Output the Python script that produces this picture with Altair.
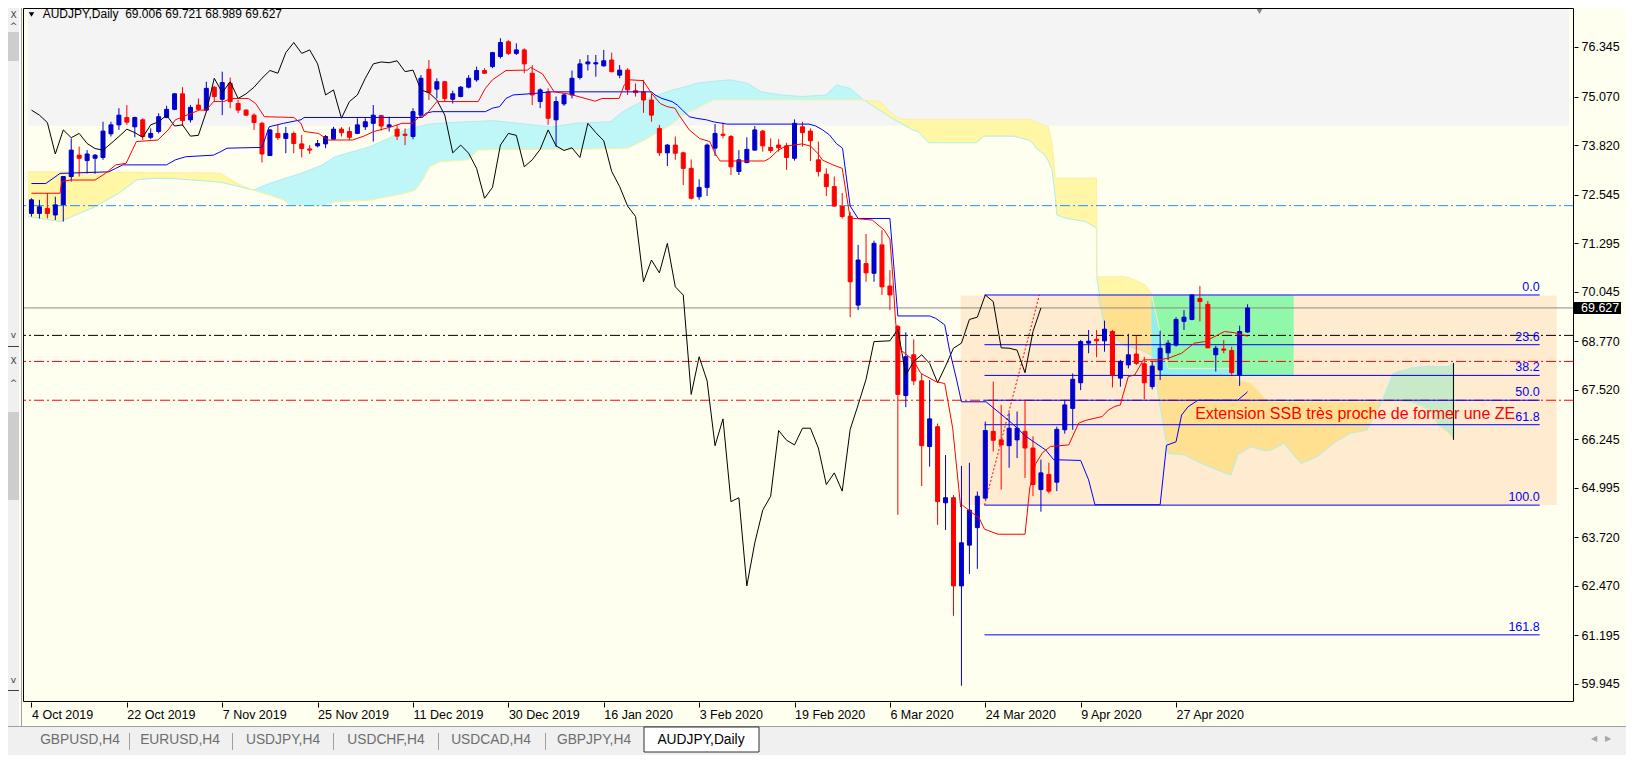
import json
import altair as alt
import pandas as pd

# ---------------- values ----------------
SYMBOL = "AUDJPY,Daily"
DATE_LABELS = ["4 Oct 2019", "22 Oct 2019", "7 Nov 2019", "25 Nov 2019", "11 Dec 2019",
               "30 Dec 2019", "16 Jan 2020", "3 Feb 2020", "19 Feb 2020", "6 Mar 2020",
               "24 Mar 2020", "9 Apr 2020", "27 Apr 2020"]
BARS_PER_LABEL = 12

OPEN = [72.06, 72.06, 72.19, 72.02, 72.28, 73.01, 73.56, 73.42, 73.48, 73.50,
        74.11, 74.34, 74.53, 74.29, 74.47, 74.02, 74.17, 74.53, 74.74, 75.14,
        74.47, 74.85, 74.72, 75.31, 75.00, 75.41, 74.89, 74.72, 74.59, 74.38,
        73.55, 74.12, 73.99, 74.12, 73.85, 73.72, 73.80, 73.85, 73.97, 74.23,
        74.17, 74.12, 74.29, 74.38, 74.58, 74.29, 74.23, 74.10, 74.04, 74.59,
        75.77, 75.26, 75.45, 75.00, 75.07, 75.31, 75.50, 75.74, 75.84, 76.10,
        76.48, 76.18, 76.27, 75.67, 74.94, 75.19, 74.47, 74.88, 75.11, 75.56,
        75.91, 75.91, 75.86, 76.01, 75.62, 75.75, 75.22, 75.19, 74.98, 74.25,
        73.62, 73.82, 73.62, 73.22, 72.49, 72.73, 73.74, 74.10, 74.04, 73.14,
        73.37, 73.69, 74.18, 73.76, 73.82, 73.80, 73.48, 74.29, 74.18, 73.44,
        73.07, 72.75, 72.25, 71.99, 69.70, 70.77, 70.52, 71.25, 70.19, 69.15,
        67.37, 68.42, 67.75, 66.06, 66.57, 64.61, 64.74, 62.47, 63.52, 63.97,
        64.73, 66.45, 66.23, 66.08, 66.23, 66.45, 66.02, 64.95, 65.34, 65.14,
        66.49, 67.04, 67.70, 68.72, 68.82, 68.78, 69.02, 67.82, 68.16, 68.44,
        68.19, 67.60, 68.03, 68.47, 68.67, 69.28, 69.33, 69.87, 69.72, 68.42,
        68.57, 68.53, 67.90, 69.006]
HIGH = [72.45, 72.41, 72.58, 72.49, 73.01, 73.99, 73.78, 73.69, 73.59, 74.42,
        74.42, 74.77, 74.85, 74.55, 74.51, 74.25, 74.64, 74.83, 75.16, 75.31,
        74.85, 75.02, 75.45, 75.34, 75.71, 75.56, 74.98, 74.74, 74.64, 74.42,
        74.23, 74.34, 74.29, 74.17, 74.08, 73.82, 73.95, 74.08, 74.29, 74.28,
        74.29, 74.51, 74.51, 74.85, 74.59, 74.55, 74.34, 74.25, 74.77, 75.62,
        76.01, 75.54, 75.47, 75.22, 75.34, 75.62, 75.84, 75.80, 76.22, 76.57,
        76.52, 76.44, 76.31, 75.88, 75.28, 75.28, 75.07, 75.15, 75.74, 76.03,
        76.14, 76.14, 76.27, 76.20, 75.88, 75.80, 75.41, 75.50, 75.15, 74.34,
        73.85, 74.04, 73.65, 73.45, 72.94, 73.86, 74.36, 74.40, 74.08, 73.69,
        74.02, 74.31, 74.21, 73.99, 73.97, 73.88, 74.48, 74.42, 74.25, 73.91,
        73.22, 73.01, 72.59, 72.10, 71.25, 71.53, 71.36, 71.63, 70.60, 69.19,
        69.00, 68.82, 67.93, 67.77, 66.65, 65.84, 64.81, 65.56, 65.64, 64.90,
        66.70, 67.73, 67.13, 66.93, 66.96, 67.26, 66.32, 65.72, 65.64, 66.57,
        67.26, 67.94, 68.80, 69.06, 69.06, 69.30, 69.06, 68.29, 68.96, 68.92,
        68.37, 68.25, 69.04, 68.80, 69.39, 69.57, 69.98, 70.19, 69.81, 68.65,
        68.80, 68.63, 69.17, 69.721]
LOW = [71.98, 71.93, 71.93, 71.89, 71.85, 72.88, 73.01, 73.09, 73.08, 73.44,
       74.04, 74.21, 74.34, 74.02, 73.95, 73.97, 74.12, 74.51, 74.72, 74.31,
       74.40, 74.71, 74.68, 74.94, 74.59, 74.77, 74.64, 74.58, 74.21, 73.37,
       73.54, 73.95, 73.61, 73.61, 73.50, 73.59, 73.76, 73.74, 73.95, 74.04,
       73.95, 74.10, 74.21, 73.91, 74.19, 74.17, 73.95, 73.82, 73.97, 74.57,
       74.98, 75.02, 74.94, 74.89, 75.05, 75.28, 75.45, 75.65, 75.80, 76.05,
       76.14, 76.14, 75.67, 74.85, 74.77, 74.34, 73.78, 74.83, 75.02, 75.51,
       75.74, 75.58, 75.84, 75.69, 75.54, 75.11, 75.07, 74.65, 74.42, 73.54,
       73.28, 73.44, 72.79, 72.42, 72.41, 72.51, 73.54, 73.99, 73.05, 73.05,
       73.35, 73.68, 73.65, 73.62, 73.65, 73.18, 73.42, 73.78, 73.41, 73.01,
       72.51, 72.23, 71.93, 69.39, 69.57, 70.30, 70.30, 69.96, 69.57, 64.30,
       67.07, 67.64, 65.04, 65.54, 64.04, 63.91, 61.70, 59.90, 62.78, 62.91,
       64.69, 65.93, 64.95, 65.51, 65.76, 65.25, 64.78, 64.38, 64.85, 64.91,
       66.39, 66.49, 67.51, 68.46, 68.36, 68.50, 67.58, 67.60, 68.07, 68.16,
       67.27, 67.53, 67.77, 68.29, 68.63, 69.06, 69.31, 69.28, 68.59, 67.99,
       68.46, 67.90, 67.62, 68.989]
CLOSE = [72.41, 72.23, 72.06, 72.28, 73.01, 73.69, 73.48, 73.59, 73.56, 74.18,
         74.34, 74.59, 74.41, 74.53, 74.04, 74.12, 74.55, 74.74, 75.14, 74.45,
         74.79, 74.74, 75.28, 75.07, 75.43, 74.94, 74.72, 74.59, 74.40, 73.59,
         74.21, 74.01, 74.12, 73.86, 73.73, 73.69, 73.86, 74.04, 74.23, 74.14,
         74.02, 74.34, 74.42, 74.59, 74.31, 74.34, 74.05, 74.07, 74.68, 75.54,
         75.17, 75.45, 75.02, 75.14, 75.31, 75.54, 75.74, 75.67, 76.20, 76.46,
         76.18, 76.27, 75.91, 75.11, 75.24, 74.51, 74.94, 75.11, 75.54, 75.91,
         75.96, 75.94, 75.99, 75.71, 75.75, 75.24, 75.17, 74.98, 74.59, 73.62,
         73.82, 73.61, 73.22, 72.45, 72.73, 73.82, 74.12, 74.07, 73.26, 73.44,
         73.71, 74.21, 73.80, 73.68, 73.75, 73.50, 74.38, 74.14, 73.93, 73.14,
         72.75, 72.25, 71.98, 70.30, 70.86, 70.53, 71.29, 70.17, 69.96, 67.40,
         68.37, 67.75, 66.08, 66.77, 64.64, 64.74, 62.47, 63.58, 64.42, 64.78,
         66.47, 66.22, 66.10, 66.53, 66.53, 66.02, 65.08, 65.38, 64.91, 66.50,
         67.13, 67.79, 68.76, 68.77, 68.78, 69.08, 67.90, 68.25, 68.42, 68.20,
         67.70, 68.13, 68.59, 68.72, 69.33, 69.39, 69.96, 69.79, 68.60, 68.59,
         68.54, 67.96, 69.02, 69.627]
CHIKOU_SHIFT = 26

TENKAN_BAR = [0, 3.6, 3.8, 4.9, 8.0, 9.3, 10.6, 11.9, 13.2, 15.9,
              17.2, 18.1, 21.1, 22.0, 22.9, 24.2, 25.1, 27.3, 28.2, 29.3,
              33.0, 33.9, 34.3, 36.1, 37.4, 40.4, 41.8, 43.1, 45.3, 46.6,
              47.9, 48.8, 49.6, 51.0, 56.2, 57.1, 58.0, 59.7, 62.4, 62.8,
              64.3, 65.76, 67.7, 70.92, 71.78, 73.93, 74.58, 75.23, 76.95, 78.02,
              79.1, 79.96, 80.95, 81.47, 82.76, 84.05, 85.34, 85.99, 86.63, 92.23,
              92.87, 93.95, 94.89, 96.96, 98.04, 98.9, 99.54, 100.83, 102.0, 103.0,
              105.78, 107.29, 108.0, 108.4, 108.7, 109.0, 109.4, 110.9, 111.9, 113.8,
              114.9, 115.9, 116.9, 117.1, 119.25, 119.9, 121.6, 125.0, 125.6, 126.3,
              127.2, 128.2, 130.5, 131.75, 132.6, 134.7, 135.5, 136.3, 137.0, 137.2,
              138.0, 138.8, 139.9, 141.75, 143.0, 144.7, 146.3, 147.6, 149.25, 150.1,
              151.3, 153.0]
TENKAN = [72.58, 72.58, 72.88, 72.92, 72.92, 73.09, 73.31, 73.35, 73.91, 73.95,
          74.21, 74.47, 74.72, 74.72, 74.94, 74.94, 75.02, 75.02, 74.89, 74.55,
          74.53, 74.38, 74.17, 74.12, 73.95, 73.95, 74.05, 74.17, 74.29, 74.38,
          74.38, 74.55, 74.59, 74.94, 74.94, 75.28, 75.50, 75.74, 75.75, 75.82,
          75.65, 75.19, 75.13, 74.95, 75.02, 75.02, 75.37, 75.50, 75.48, 75.15,
          74.89, 74.81, 74.77, 74.59, 74.21, 73.99, 73.91, 73.61, 73.41, 73.41,
          73.48, 73.69, 73.79, 73.85, 73.79, 73.61, 73.43, 73.31, 73.22, 71.94,
          71.89, 71.63, 71.40, 70.34, 69.31, 68.76, 68.54, 68.29, 67.94, 67.73,
          67.68, 66.53, 64.50, 64.55, 64.21, 63.93, 63.80, 63.80, 65.00, 65.60,
          65.90, 66.06, 66.10, 66.66, 66.73, 66.83, 67.00, 67.09, 67.13, 67.30,
          67.86, 67.90, 68.29, 68.29, 68.33, 68.46, 68.72, 68.76, 68.93, 69.02,
          68.99, 68.90]
KIJUN_BAR = [0, 1.8, 3.6, 9.7, 10.6, 11.5, 17.0, 18.1, 19.4, 22.9,
             23.8, 24.6, 29.0, 29.9, 31.7, 33.9, 34.3, 49.2, 49.6, 50.5,
             57.1, 58.0, 58.9, 59.7, 60.6, 63.3, 65.3, 78.02, 78.45, 79.31,
             80.6, 81.25, 81.9, 82.76, 83.62, 84.91, 85.77, 87.49, 97.82, 98.68,
             99.54, 100.4, 101.26, 102.04, 103.0, 104.0, 108.0, 109.0, 113.0, 113.75,
             114.9, 115.5, 116.4, 117.0, 120.1, 123.4, 125.1, 127.6, 128.6, 132.0,
             133.0, 133.8, 142.0, 142.8, 144.0, 144.7, 145.5, 146.75, 151.75, 152.8,
             153.0]
KIJUN = [72.83, 72.83, 73.09, 73.13, 73.22, 73.31, 73.31, 73.44, 73.52, 73.56,
         73.65, 73.74, 73.76, 74.29, 74.38, 74.47, 74.53, 74.53, 74.64, 74.68,
         74.68, 74.77, 74.81, 75.02, 75.11, 75.15, 75.19, 75.19, 75.11, 75.02,
         74.94, 74.85, 74.72, 74.55, 74.51, 74.47, 74.42, 74.36, 74.36, 74.31,
         74.21, 74.08, 73.86, 73.74, 72.25, 71.93, 71.93, 69.42, 69.42, 69.36,
         69.19, 68.54, 67.77, 67.21, 67.21, 66.65, 66.32, 65.97, 65.72, 65.70,
         65.20, 64.56, 64.56, 66.09, 66.18, 66.87, 67.08, 67.25, 67.25, 67.43,
         67.47]

# Kumo (Senkou span A / B read at the same bars), one block per colour run
KUMO1_KIND = "bear"
KUMO1_BAR = [-0.44, 3.6, 8.0, 11.0, 13.2, 15.0, 17.6, 22.9, 23.8, 26.0, 27.9]
KUMO1_A = [71.98, 71.85, 72.23, 72.58, 72.92, 72.96, 72.96, 72.88, 72.86, 72.76, 72.66]
KUMO1_B = [73.13, 73.13, 73.13, 73.12, 73.12, 73.11, 73.11, 73.10, 73.09, 72.82, 72.66]
KUMO2_KIND = "bull"
KUMO2_BAR = [27.9, 29.9, 31.7, 32.5, 33.9, 36.5, 38.2, 42.6, 44.8, 47.0,
             48.3, 49.2, 50.1, 51.4, 54.9, 56.2, 58.0, 65.4, 68.55, 72.86,
             74.15, 75.0, 77.16, 80.6, 81.47, 82.76, 83.62, 85.77, 87.92, 90.07,
             91.8, 94.38, 96.96, 99.97, 101.26, 102.99, 104.71]
KUMO2_A = [72.66, 72.83, 72.95, 73.0, 73.09, 73.3, 73.52, 73.78, 73.98, 74.21,
           74.28, 74.32, 74.36, 74.38, 74.42, 74.43, 74.45, 74.29, 74.38, 74.42,
           74.64, 74.75, 74.98, 75.24, 75.28, 75.35, 75.41, 75.46, 75.50, 75.41,
           75.19, 75.11, 75.07, 75.11, 75.37, 75.28, 74.98]
KUMO2_B = [72.66, 72.53, 72.41, 72.28, 72.27, 72.26, 72.36, 72.40, 72.49, 72.58,
           72.66, 72.92, 73.26, 73.39, 73.44, 73.69, 73.70, 73.71, 73.71, 73.73,
           73.74, 73.74, 73.95, 74.36, 74.51, 74.68, 74.75, 74.98, 74.98, 74.98,
           74.98, 74.98, 74.98, 74.98, 74.98, 74.98, 74.98]
KUMO3_KIND = "bear"
KUMO3_BAR = [104.71, 106.86, 107.72, 109.01, 109.44, 110.73, 111.6, 112.9, 118.9, 119.8,
             123.6, 125.4, 125.8, 126.5, 127.5, 127.95, 128.4, 128.8, 129.0, 130.1,
             132.6, 134.0, 134.05, 135.0, 136.0, 137.6, 138.8, 140.1, 140.9, 142.0,
             143.0, 145.1, 147.2, 149.25, 150.9, 151.75, 153.4, 154.25, 155.1, 156.0,
             157.6, 159.7, 161.75, 163.8, 165.9, 168.0, 169.9]
KUMO3_A = [74.98, 74.70, 74.58, 74.42, 74.38, 74.22, 74.16, 73.88, 73.88, 74.05,
           74.05, 73.95, 73.90, 73.72, 73.56, 73.40, 73.18, 72.50, 72.02, 71.94,
           71.85, 71.68, 70.38, 69.10, 68.90, 68.65, 68.58, 68.50, 68.40, 67.10,
           65.88, 65.84, 65.62, 65.45, 65.32, 65.84, 66.06, 66.00, 65.95, 65.97,
           66.14, 65.62, 65.80, 66.14, 66.40, 66.48, 67.22]
KUMO3_B = [74.98, 74.94, 74.72, 74.51, 74.49, 74.48, 74.48, 74.48, 74.48, 74.48,
           74.48, 74.48, 74.48, 74.40, 74.32, 74.29, 73.86, 73.01, 72.97, 72.97,
           72.97, 72.97, 70.43, 70.43, 70.43, 70.43, 70.35, 70.22, 70.00, 69.00,
           68.07, 68.07, 68.07, 68.07, 68.07, 67.77, 67.69, 67.51, 67.30, 67.22,
           67.22, 67.22, 67.22, 67.22, 67.22, 67.22, 67.22]
KUMO4_KIND = "bull"
KUMO4_BAR = [169.9, 171.3, 173.4, 174.0, 175.0, 175.9, 177.0, 178.0, 179.0]
KUMO4_A = [67.22, 67.94, 68.07, 68.09, 68.11, 68.13, 68.12, 68.11, 68.20]
KUMO4_B = [67.22, 67.22, 67.20, 67.16, 67.08, 66.98, 66.60, 66.45, 66.25]

PRICE_TICKS = [76.345, 75.070, 73.820, 72.545, 71.295, 70.045, 68.770,
               67.520, 66.245, 64.995, 63.720, 62.470, 61.195, 59.945]
BID = 69.627
BLACK_DASHDOT = 68.92
RED_DASHDOTS = [68.25, 67.25]
BLUE_DASHDOT = 72.26
UPPER_ZONE_FROM = 74.32

FIB_LEVELS = ["0.0", "23.6", "38.2", "50.0", "61.8", "100.0", "161.8"]
FIB_PRICES = [69.96, 68.68, 67.89, 67.25, 66.62, 64.55, 61.21]
FIB_SPAN_BARS = [119.9, 189.75]
FIB_BASE_BARS = [119.9, 126.8]
FIB_BASE_PRICES = [64.55, 69.96]

PEACH_BARS = [116.9, 191.9]
PEACH_PRICES = [64.55, 69.95]
GREEN_BARS = [140.9, 158.8]
GREEN_PRICES = [67.89, 69.95]
KUMO_END_BAR = 178.9
KUMO_END_PRICES = [66.23, 68.21]

NOTE = "Extension SSB très proche de former une ZE"
NOTE_BAR = 146.4
NOTE_PRICE = 66.76
SHIFT_MARK_BAR = 154.5
TABS = ["GBPUSD,H4", "EURUSD,H4", "USDJPY,H4", "USDCHF,H4", "USDCAD,H4", "GBPJPY,H4", "AUDJPY,Daily"]

# ---------------- layout and style ----------------
W, H = 1551, 694
X_DOMAIN = [-0.4375, 193.4375]
Y_DOMAIN = [59.481, 77.349]
FONT = "Liberation Sans"
BG = "#FFFFF0"
C_UPPER = "#F4F4F4"
KUMO_COLOR = {"bear": "#FFF6A6", "bull": "#BFF7F8"}
KUMO_ON_PEACH = {"bear": "#FFE090", "bull": "#C8EAC8"}
KUMO_ON_GREEN = {"bear": "#8EF0F0", "bull": "#8EF0F0"}
C_EDGE_A = "#B0EDEF"
C_EDGE_B = "#FBF09C"
C_PEACH = "#FFEBD0"
C_GREEN = "#90F8A8"
C_BULL = "#0000CC"
C_BEAR = "#FF0000"
C_BLUE = "#0000FF"
C_RED = "#FF0000"
C_DODGER = "#1E90FF"
C_BID = "#8C8C8C"
DASHDOT = [10, 3, 2, 3]
TAB_CENTER_PX = [57, 157, 260, 363, 468, 571, 678]
TAB_SEPARATOR_PX = [106, 209, 310, 415, 522]
ACTIVE_TAB_PX = (621, 736)

XS = alt.Scale(domain=X_DOMAIN, nice=False, zero=False)
YS = alt.Scale(domain=Y_DOMAIN, nice=False, zero=False)
X_AXIS = alt.Axis(
    values=[BARS_PER_LABEL * k for k in range(len(DATE_LABELS))],
    labelExpr=json.dumps(DATE_LABELS) + f"[round(datum.value / {BARS_PER_LABEL})]",
    orient="bottom", title=None, domain=False, grid=False,
    ticks=True, tickSize=5, tickColor="#000000", tickWidth=1,
    labelAlign="left", labelBaseline="top", labelPadding=1,
    labelFont=FONT, labelFontSize=12.5, labelColor="#000000",
    labelFlush=False, labelOverlap=False)
Y_AXIS = alt.Axis(
    values=PRICE_TICKS, format=".3f", orient="right", title=None, domain=False, grid=False,
    ticks=True, tickSize=4, tickColor="#000000", tickWidth=1,
    labelAlign="left", labelBaseline="middle", labelPadding=3,
    labelFont=FONT, labelFontSize=12.5, labelColor="#000000",
    labelFlush=False, labelOverlap=False)


def X(f):
    return alt.X(f"{f}:Q", scale=XS, axis=X_AXIS)


def Y(f):
    return alt.Y(f"{f}:Q", scale=YS, axis=Y_AXIS)


ONE = pd.DataFrame({"k": [0]})


def px_rect(x, y, x2, y2, **mark):
    return alt.Chart(ONE).mark_rect(**mark).encode(
        x=alt.value(x), x2=alt.value(x2), y=alt.value(y), y2=alt.value(y2))


def px_text(txt, x, y, **mark):
    return alt.Chart(ONE).mark_text(text=txt, **mark).encode(x=alt.value(x), y=alt.value(y))


# ---------------- tables ----------------
n = len(OPEN)
candles = pd.DataFrame({"bar": list(range(n)), "o": OPEN, "h": HIGH, "l": LOW, "c": CLOSE})
candles["col"] = [C_BULL if c > o else C_BEAR for o, c in zip(OPEN, CLOSE)]
chikou = pd.DataFrame({"bar": list(range(n - CHIKOU_SHIFT)), "v": CLOSE[CHIKOU_SHIFT:]})
tenkan = pd.DataFrame({"bar": TENKAN_BAR, "v": TENKAN})
kijun = pd.DataFrame({"bar": KIJUN_BAR, "v": KIJUN})

kumo_blocks = [(KUMO1_KIND, KUMO1_BAR, KUMO1_A, KUMO1_B), (KUMO2_KIND, KUMO2_BAR, KUMO2_A, KUMO2_B),
               (KUMO3_KIND, KUMO3_BAR, KUMO3_A, KUMO3_B), (KUMO4_KIND, KUMO4_BAR, KUMO4_A, KUMO4_B)]
rows = []
for k, (kind, bs, aa, bb) in enumerate(kumo_blocks):
    for b_, a_, s_ in zip(bs, aa, bb):
        rows.append({"bar": b_, "a": a_, "b": s_, "seg": k, "kind": kind})
kumo = pd.DataFrame(rows)
kumo["col"] = kumo["kind"].map(KUMO_COLOR)


def kumo_inside(bars_, prices_, palette):
    """Part of the cloud that lies inside a box (MT4 blends those colours)."""
    d = kumo[(kumo.bar >= bars_[0]) & (kumo.bar <= bars_[1])].copy()
    hi = d[["a", "b"]].max(axis=1)
    lo = d[["a", "b"]].min(axis=1)
    d["top"] = hi.clip(lower=prices_[0], upper=prices_[1])
    d["bot"] = lo.clip(lower=prices_[0], upper=prices_[1])
    d["col"] = d["kind"].map(palette)
    return d


in_peach = kumo_inside(PEACH_BARS, PEACH_PRICES, KUMO_ON_PEACH)
in_green = kumo_inside(GREEN_BARS, GREEN_PRICES, KUMO_ON_GREEN)

layers = []

# background zones and boxes
layers.append(alt.Chart(pd.DataFrame({"x": [X_DOMAIN[0]], "x2": [X_DOMAIN[1]],
                                      "y": [UPPER_ZONE_FROM], "y2": [Y_DOMAIN[1]]}))
              .mark_rect(color=C_UPPER, clip=True)
              .encode(x=X("x"), x2="x2", y=Y("y"), y2="y2"))
for bars_, prices_, col in [(PEACH_BARS, PEACH_PRICES, C_PEACH), (GREEN_BARS, GREEN_PRICES, C_GREEN)]:
    layers.append(alt.Chart(pd.DataFrame({"x": [bars_[0]], "x2": [bars_[1]],
                                          "y": [prices_[0]], "y2": [prices_[1]]}))
                  .mark_rect(color=col, clip=True)
                  .encode(x=X("x"), x2="x2", y=Y("y"), y2="y2"))

# kumo, then its blended parts inside the boxes
for d in (kumo.assign(top=kumo["a"], bot=kumo["b"]), in_peach, in_green):
    layers.append(alt.Chart(d).mark_area(interpolate="linear", clip=True).encode(
        x=X("bar"), y=Y("top"), y2="bot", detail="seg:N", color=alt.Color("col:N", scale=None)))
layers.append(alt.Chart(kumo).mark_line(color=C_EDGE_A, strokeWidth=1, clip=True).encode(
    x=X("bar"), y=Y("a"), order="bar:Q"))
layers.append(alt.Chart(kumo).mark_line(color=C_EDGE_B, strokeWidth=1, clip=True).encode(
    x=X("bar"), y=Y("b"), order="bar:Q"))

# horizontal lines
hl = pd.DataFrame({"y": [BLUE_DASHDOT, BLACK_DASHDOT] + RED_DASHDOTS,
                   "col": [C_DODGER, "#000000"] + [C_RED] * len(RED_DASHDOTS)})
layers.append(alt.Chart(hl).mark_rule(strokeDash=DASHDOT, strokeWidth=1).encode(
    y=Y("y"), color=alt.Color("col:N", scale=None)))
layers.append(alt.Chart(pd.DataFrame({"y": [BID]})).mark_rule(color=C_BID, strokeWidth=1).encode(y=Y("y")))

# fibonacci
fib = pd.DataFrame({"x": [FIB_SPAN_BARS[0]] * len(FIB_PRICES), "x2": [FIB_SPAN_BARS[1]] * len(FIB_PRICES),
                    "y": FIB_PRICES, "lvl": FIB_LEVELS})
layers.append(alt.Chart(fib).mark_rule(color=C_BLUE, strokeWidth=1).encode(x=X("x"), x2="x2", y=Y("y")))
layers.append(alt.Chart(pd.DataFrame({"bar": FIB_BASE_BARS, "v": FIB_BASE_PRICES}))
              .mark_line(color=C_RED, strokeDash=[2, 2], strokeWidth=1).encode(x=X("bar"), y=Y("v")))

# candles
layers.append(alt.Chart(candles).mark_rule(strokeWidth=1).encode(
    x=X("bar"), y=Y("l"), y2="h", color=alt.Color("col:N", scale=None)))
layers.append(alt.Chart(candles).mark_bar(size=4, strokeWidth=1, opacity=1).encode(
    x=X("bar"), y=Y("o"), y2="c",
    fill=alt.Fill("col:N", scale=None),
    stroke=alt.Stroke("col:N", scale=None)))

# ichimoku lines
layers.append(alt.Chart(chikou).mark_line(color="#000000", strokeWidth=1).encode(x=X("bar"), y=Y("v")))
layers.append(alt.Chart(kijun).mark_line(color=C_BLUE, strokeWidth=1).encode(x=X("bar"), y=Y("v")))
layers.append(alt.Chart(tenkan).mark_line(color=C_RED, strokeWidth=1).encode(x=X("bar"), y=Y("v")))

# end-of-cloud vertical line
layers.append(alt.Chart(pd.DataFrame({"x": [KUMO_END_BAR], "y": [KUMO_END_PRICES[0]], "y2": [KUMO_END_PRICES[1]]}))
              .mark_rule(color="#000000", strokeWidth=1).encode(x=X("x"), y=Y("y"), y2="y2"))

# texts
layers.append(alt.Chart(fib).mark_text(align="right", baseline="bottom", dy=-1, color=C_BLUE,
                                       font=FONT, fontSize=12.5).encode(x=X("x2"), y=Y("y"), text="lvl:N"))
layers.append(alt.Chart(pd.DataFrame({"x": [NOTE_BAR], "y": [NOTE_PRICE], "t": [NOTE]}))
              .mark_text(align="left", baseline="alphabetic", color=C_RED, font=FONT, fontSize=16)
              .encode(x=X("x"), y=Y("y"), text="t:N"))
title = f"{SYMBOL}\u00a0 {OPEN[-1]:.3f} {HIGH[-1]:.3f} {LOW[-1]:.3f} {CLOSE[-1]:.3f}"
layers.append(px_text(title, 19.7, 10.3, align="left", baseline="alphabetic", font=FONT,
                      fontSize=12, color="#000000"))
layers.append(alt.Chart(ONE).mark_point(shape="triangle-down", filled=True, size=30, color="#000000",
                                        opacity=1).encode(x=alt.value(8.5), y=alt.value(6.5)))
layers.append(alt.Chart(pd.DataFrame({"x": [SHIFT_MARK_BAR]}))
              .mark_point(shape="triangle-down", filled=True, size=45, color="#7A8793", opacity=1)
              .encode(x=X("x"), y=alt.value(3)))

# current price box on the scale
layers.append(alt.Chart(pd.DataFrame({"y": [BID - 0.155], "y2": [BID + 0.155]}))
              .mark_rect(color="#000000").encode(x=alt.value(W), x2=alt.value(W + 47), y=Y("y"), y2="y2"))
layers.append(alt.Chart(pd.DataFrame({"y": [BID]}))
              .mark_text(text=f"{BID:.3f}", align="left", baseline="middle", color="#FFFFFF",
                         font=FONT, fontSize=12.5).encode(x=alt.value(W + 7), y=Y("y")))

# frame
layers.append(px_rect(0.5, 0.5, W - 0.5, H - 0.5, filled=False, color="#000000", strokeWidth=1))

# window chrome: left panel (two small docked windows)
layers.append(px_rect(-15, 0, -4, 719, color="#F0F0F0"))
layers.append(px_rect(-2, 0, -1, 719, color="#A0A0A0"))
layers.append(px_rect(-15, 24, -4, 53, color="#CDCDCD"))
layers.append(px_rect(-15, 404, -4, 492, color="#CDCDCD"))
layers.append(px_rect(-15, 338, -4, 339, color="#404040"))
layers.append(px_rect(-15, 682, -4, 683, color="#404040"))
for yy, gl in [(7, "X"), (18, "^"), (327, "v"), (353, "X"), (375, "^"), (672, "v")]:
    layers.append(px_text(gl, -9.5, yy, align="center", baseline="middle", font="DejaVu Sans",
                          fontSize=9, color="#404040"))

# window chrome: tabs
layers.append(px_rect(-15, 719, W + 52, 747, color="#F0F0F0"))
layers.append(px_rect(-15, 718, W + 52, 719, color="#A0A0A0"))
for sx in TAB_SEPARATOR_PX:
    layers.append(px_rect(sx, 725, sx + 1, 742, color="#A0A0A0"))
layers.append(px_rect(ACTIVE_TAB_PX[0], 719, ACTIVE_TAB_PX[1], 744, color="#FFFFFF",
                      stroke="#303030", strokeWidth=1))
for name, cx in zip(TABS, TAB_CENTER_PX):
    layers.append(px_text(name, cx, 732, align="center", baseline="middle", font=FONT, fontSize=13.8,
                          color="#000000" if name == SYMBOL else "#6E6E6E"))
layers.append(px_text("\u25C0", W + 20, 731, align="center", baseline="middle", font="DejaVu Sans",
                      fontSize=8, color="#A8A8A8"))
layers.append(px_text("\u25B6", W + 34, 731, align="center", baseline="middle", font="DejaVu Sans",
                      fontSize=8, color="#A8A8A8"))

chart = alt.layer(*layers).properties(
    width=W, height=H,
    padding={"left": 15, "top": 0, "right": 52, "bottom": 53},
    autosize=alt.AutoSizeParams(type="none"),
    background=BG,
).configure_view(strokeWidth=0)

chart.save("out.html", embed_options={"renderer": "svg", "actions": False})
